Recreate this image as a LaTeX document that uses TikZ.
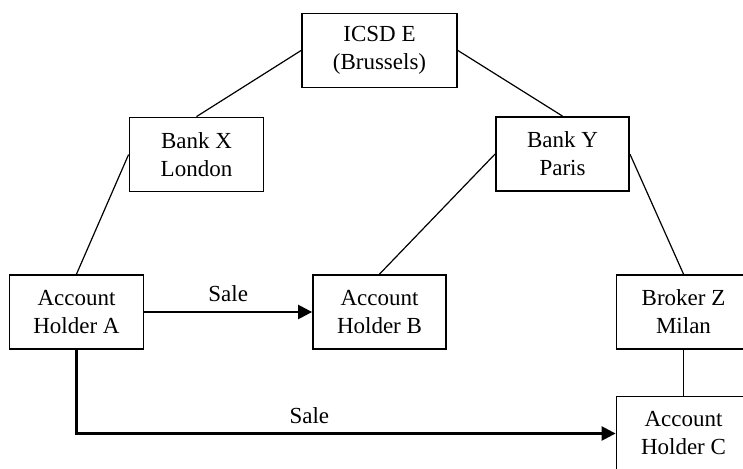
\documentclass[tikz,border=0pt]{standalone}
\usepackage{fontspec}
\setmainfont{Liberation Serif}
\usepackage{tikz}
\usetikzlibrary{arrows.meta}

\begin{document}
\begin{tikzpicture}[x=0.5pt,y=-0.5pt]
    \tikzstyle{entity}=[draw=black,line width=0.9pt,inner sep=0pt,minimum width=67pt,minimum height=37pt,align=center,font=\fontsize{11.5}{14}\selectfont]
    \tikzstyle{holding}=[line width=0.6pt,color=black]
    \tikzstyle{sale}=[-{Triangle[length=7pt,width=7pt]},line width=1.2pt,color=black]
    \tikzstyle{sale text}=[black,above=1pt,font=\fontsize{11.5}{14}\selectfont]

    \useasboundingbox (0,0) rectangle (743,469);
    \clip (0,0) rectangle (743,469);

    % Nodes
    \node[style=entity,minimum width=77.5pt] (icsd) at (379.5,50.5) {ICSD E\\(Brussels)};
    \node[style=entity] (bankx) at (196.5,154.5) {Bank X\\London};
    \node[style=entity,minimum width=66.5pt] (banky) at (562.5,154) {Bank Y\\Paris};
    \node[style=entity] (holdera) at (76.5,312) {Account\\Holder A};
    \node[style=entity,minimum width=66.5pt] (holderb) at (379.5,312) {Account\\Holder B};
    \node[style=entity] (brokerz) at (683.5,312) {Broker Z\\Milan};
    \node[style=entity] (holderc) at (683.5,433.5) {Account\\Holder C};

    % Holdings
    \draw[style=holding] (icsd.west) -- (bankx.north);
    \draw[style=holding] (icsd.east) -- (banky.north);
    \draw[style=holding] (bankx.west) -- (holdera.north);
    \draw[style=holding] (banky.west) -- (holderb.north);
    \draw[style=holding] (banky.east) -- (brokerz.north);
    \draw[style=holding] (brokerz.south) -- (holderc.north);

    % Sales
    \draw[style=sale] (holdera.east) -- node[style=sale text] {Sale} (holderb.west);
    \draw[style=sale] (holdera.south) |- node[style=sale text,pos=0.716] {Sale} (holderc.west);

\end{tikzpicture}
\end{document}
